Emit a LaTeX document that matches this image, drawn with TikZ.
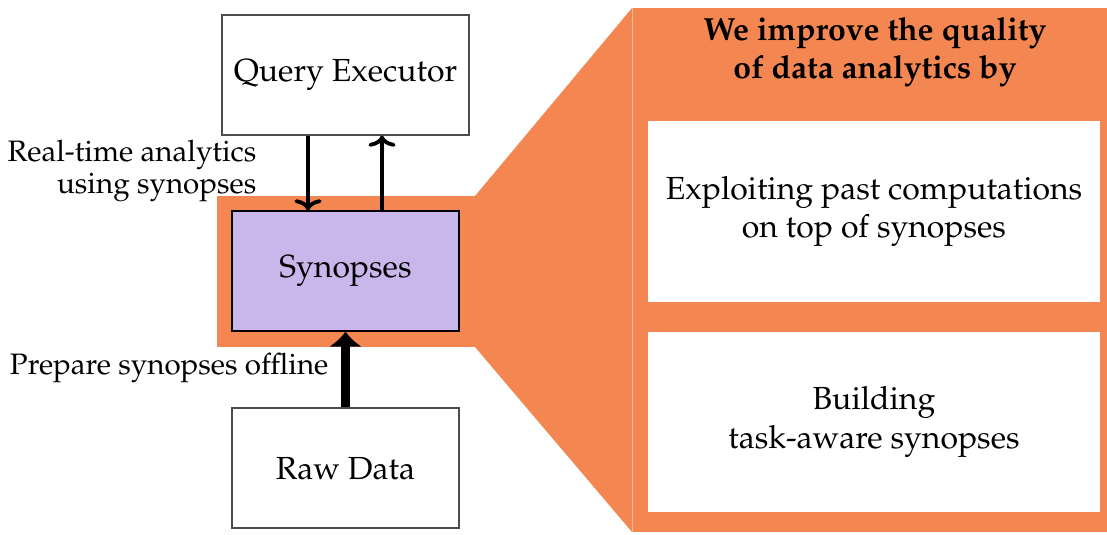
\documentclass[tikz,border=0pt]{standalone}
\usepackage[T1]{fontenc}
\usepackage{mathpazo}
\usepackage{tikz}
\usetikzlibrary{arrows.meta}

\definecolor{panelorange}{RGB}{244,134,82}
\definecolor{synlilac}{RGB}{201,182,234}

\begin{document}
\begin{tikzpicture}[x=0.011cm, y=-0.011cm,
	box/.style={draw=black!70, fill=white, inner sep=0pt, minimum width=2.497cm, minimum height=1.32cm},
	flow/.style={line width=1.2pt, -{Computer Modern Rightarrow[length=3.5pt, width=8.5pt]}},
	offline/.style={line width=3.1pt, -{Latex[length=4.7pt, width=10.6pt]}},
	side/.style={align=right, anchor=east, font=\fontsize{9.25}{10.2}\selectfont, inner sep=0pt},
	idea/.style={fill=white, align=center, inner sep=0pt, minimum width=4.972cm, minimum height=1.99cm}]
	\useasboundingbox (0,0) rectangle (1107,534);
	% orange zoom-out behind the synopses
	\fill[panelorange] (217,196) rectangle (476,347);
	\fill[panelorange] (475,196) -- (632,8) -- (632,532) -- (475,347) -- cycle;
	\fill[panelorange] (632,8) rectangle (1107,532);
	\draw[panelorange!60!white, line width=0.3pt] (632,8) -- (632,532);
	% left stack
	\node[box, minimum width=2.717cm] (qexec) at (345.5,75) {Query Executor};
	\node[box, draw=black, fill=synlilac] (syn) at (345.5,271) {Synopses};
	\node[box] (raw) at (345.5,468) {Raw Data};
	\draw[flow] (qexec.south -| 308,0) -- (syn.north -| 308,0);
	\draw[flow] (syn.north -| 382,0) -- (qexec.south -| 382,0);
	\draw[offline] (raw.north) -- (syn.south);
	\node[side] (rtlab) at (257,171) {Real-time analytics\\using synopses};
	\node[side] (prelab) at (329,368) {Prepare synopses offline};
	% right panel
	\node[align=center, font=\bfseries] (title) at (875,52) {We improve the quality\\of data analytics by};
	\node[idea] (past) at (874,211.5) {Exploiting past computations\\on top of synopses};
	\node[idea] (aware) at (874,422) {Building\\task-aware synopses};
\end{tikzpicture}
\end{document}
